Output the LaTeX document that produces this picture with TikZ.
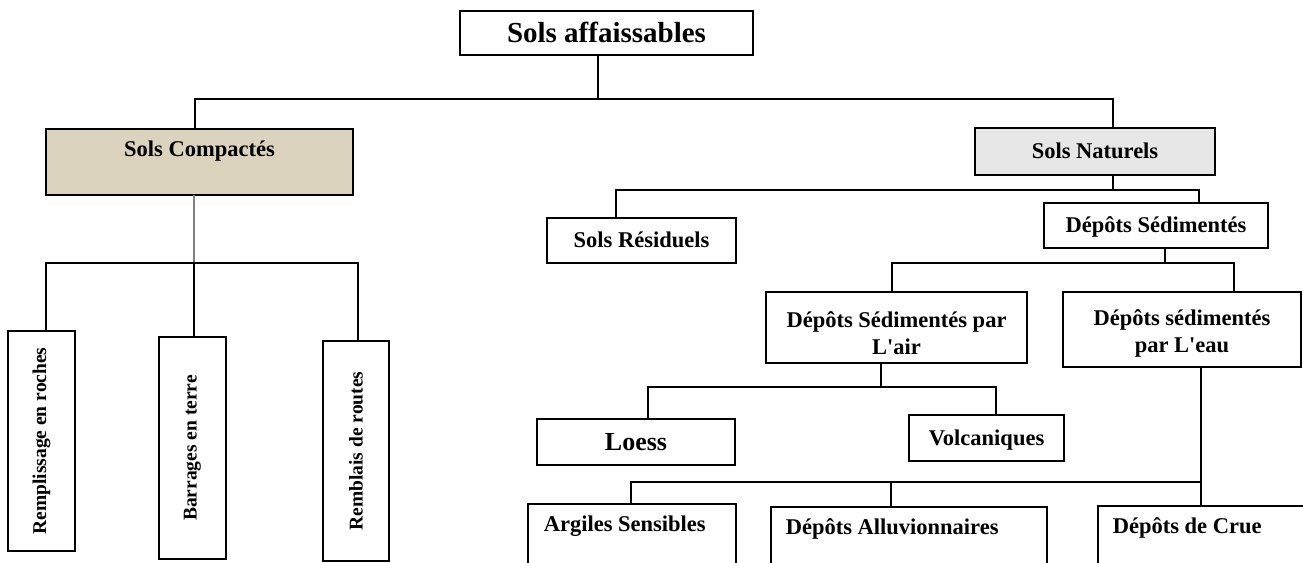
\documentclass[tikz,border=0pt]{standalone}
\usepackage{fontspec}
\setmainfont{Liberation Serif}
\definecolor{compfill}{RGB}{219,211,189}
\definecolor{natfill}{RGB}{231,231,231}
\begin{document}
\begin{tikzpicture}[x=1pt,y=-1pt,
  box/.style={draw, line width=1.6pt, inner sep=0pt,
    font=\bfseries\fontsize{22.5}{27}\selectfont,
    text height=16.5pt, text depth=2.5pt},
  twobox/.style={draw, line width=1.6pt, inner sep=0pt, align=center,
    font=\bfseries\fontsize{22.5}{27}\selectfont},
  topbox/.style={draw, line width=1.6pt, inner ysep=0pt, inner xsep=15pt,
    anchor=north west,
    font=\bfseries\fontsize{22.5}{27}\selectfont,
    text height=27.5pt, text depth=72.5pt},
  vbox/.style={draw, line width=1.6pt, inner sep=0pt,
    font=\bfseries\fontsize{19.5}{23}\selectfont},
  conn/.style={line width=1.5pt, line cap=rect}]
\useasboundingbox (0,0) rectangle (1303,562);
\clip (0,0) rectangle (1303,562);

% nodes
\node[box, minimum width=293pt, minimum height=44pt,
  font=\bfseries\fontsize{29}{34}\selectfont,
  text height=21pt, text depth=3pt] (root) at (606.5,33) {Sols affaissables};
\node[box, fill=compfill, minimum width=307pt, minimum height=66pt,
  text height=27.5pt, text depth=38.5pt] (comp) at (199.5,162) {Sols Compactés};
\node[box, fill=natfill, minimum width=240pt, minimum height=47pt] (nat) at (1095,151.5) {Sols Naturels};
\node[box, minimum width=189pt, minimum height=45pt] (res) at (641.5,240.5) {Sols Résiduels};
\node[box, minimum width=224pt, minimum height=45pt] (ds) at (1156,225.5) {Dépôts Sédimentés};
\node[twobox, minimum width=261pt, minimum height=71pt] (air) at (896.5,327.5)
  {\rule{0pt}{27pt}Dépôts Sédimentés par\\L\textquotesingle air};
\node[twobox, minimum width=238pt, minimum height=75pt] (eau) at (1182,329.5)
  {\rule{0pt}{24pt}Dépôts sédimentés\\par L\textquotesingle eau};
\node[box, minimum width=198pt, minimum height=46pt,
  font=\bfseries\fontsize{26}{30}\selectfont,
  text height=19pt, text depth=3pt] (loess) at (636,442) {Loess};
\node[box, minimum width=155pt, minimum height=46pt] (volc) at (986.5,438) {Volcaniques};
\node[topbox, inner xsep=16pt] (arg) at (527,503) {\makebox[176pt][l]{Argiles Sensibles}};
\node[topbox] (alluv) at (770,506) {\makebox[246pt][l]{Dépôts Alluvionnaires}};
\node[topbox] (crue) at (1097,505) {\makebox[200pt][l]{Dépôts de Crue}};
\node[vbox, minimum width=67pt, minimum height=220pt] (r1) at (41.5,441) {\rotatebox{90}{Remplissage en roches}};
\node[vbox, minimum width=67pt, minimum height=222pt] (r2) at (192.5,448) {\rotatebox{90}{Barrages en terre}};
\node[vbox, minimum width=66pt, minimum height=220pt] (r3) at (356,451) {\rotatebox{90}{Remblais de routes}};

% junction points
\coordinate (j0) at (598,99);
\coordinate (jl) at (195,99);
\coordinate (jr) at (1113,99);
\coordinate (k0) at (194,263);
\coordinate (k1) at (46,263);
\coordinate (k3) at (358,263);
\coordinate (n0) at (1113,190);
\coordinate (n1) at (616,190);
\coordinate (n2) at (1199,190);
\coordinate (d0) at (1165,263);
\coordinate (d1) at (892,263);
\coordinate (d2) at (1234,263);
\coordinate (a0) at (881,387);
\coordinate (a1) at (648,387);
\coordinate (a2) at (996,387);
\coordinate (e0) at (1201,482);
\coordinate (e1) at (631,482);
\coordinate (e2) at (891,482);

% connectors
\draw[conn] (root.south -| j0) -- (j0);
\draw[conn] (comp.north -| jl) -- (jl) -- (jr) -- (nat.north -| jr);
\draw[conn, gray] (comp.south -| k0) -- (k0);
\draw[conn] (r1.north -| k1) -- (k1) -- (k3) -- (r3.north -| k3);
\draw[conn] (k0) -- (r2.north -| k0);
\draw[conn] (nat.south -| n0) -- (n0);
\draw[conn] (res.north -| n1) -- (n1) -- (n2) -- (ds.north -| n2);
\draw[conn] (ds.south -| d0) -- (d0);
\draw[conn] (air.north -| d1) -- (d1) -- (d2) -- (eau.north -| d2);
\draw[conn] (air.south -| a0) -- (a0);
\draw[conn] (loess.north -| a1) -- (a1) -- (a2) -- (volc.north -| a2);
\draw[conn] (eau.south -| e0) -- (crue.north -| e0);
\draw[conn] (e0) -- (e1) -- (arg.north -| e1);
\draw[conn] (e2) -- (alluv.north -| e2);
\end{tikzpicture}
\end{document}
